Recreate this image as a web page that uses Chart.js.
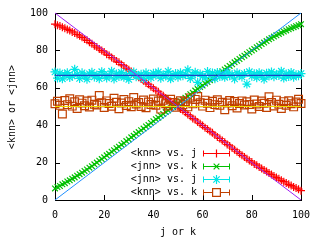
<!DOCTYPE html>
<html>
<head>
<meta charset="utf-8">
<script src="https://cdn.jsdelivr.net/npm/chart.js@4/dist/chart.umd.min.js"></script>
<style>
  html, body { margin: 0; padding: 0; background: #fff; }
  #wrap { width: 320px; height: 240px; position: relative; }
</style>
</head>
<body>
<div id="wrap"><canvas id="c"></canvas></div>
<script>
// j or k, 0..100
const steps = [0,1,2,3,4,5,6,7,8,9,10,11,12,13,14,15,16,17,18,19,20,21,22,23,24,25,26,27,28,29,30,31,32,33,34,35,36,37,38,39,40,41,42,43,44,45,46,47,48,49,50,51,52,53,54,55,56,57,58,59,60,61,62,63,64,65,66,67,68,69,70,71,72,73,74,75,76,77,78,79,80,81,82,83,84,85,86,87,88,89,90,91,92,93,94,95,96,97,98,99,100];

// <knn> vs. j
const knnJ = [94.0,93.5,93.1,92.4,91.9,91.2,90.7,89.9,89.3,88.5,
  87.8,87.0,86.1,85.4,84.3,83.6,82.5,81.8,80.8,79.9,
  79.1,78.0,77.3,76.2,75.4,74.3,73.6,72.4,71.7,70.5,
  69.6,68.7,67.5,66.8,65.6,64.7,63.8,62.6,61.9,60.6,
  59.8,58.7,57.9,56.6,55.8,54.6,53.9,52.7,51.8,50.6,
  49.9,48.7,47.8,46.9,45.7,44.8,43.6,42.9,41.7,40.8,
  39.8,38.7,37.9,36.7,35.9,34.8,33.7,32.9,31.8,30.9,
  29.7,28.9,27.8,26.9,25.8,24.9,23.9,23.0,22.0,21.1,
  20.3,19.3,18.6,17.6,16.9,16.0,15.2,14.4,13.6,12.8,
  12.0,11.3,10.5,9.8,9.1,8.4,7.7,7.0,6.4,5.8,
  5.0];

// <jnn> vs. k
const jnnK = [6.2,6.9,7.5,8.4,9.0,9.9,10.5,11.4,12.1,13.0,
  13.8,14.6,15.5,16.3,17.3,18.1,19.1,20.0,21.0,21.9,
  22.8,23.9,24.7,25.8,26.6,27.7,28.5,29.6,30.4,31.5,
  32.4,33.5,34.3,35.4,36.3,37.3,38.2,39.3,40.1,41.2,
  42.1,43.2,44.0,45.1,46.0,47.0,47.9,49.0,49.8,50.9,
  51.7,52.8,53.6,54.7,55.5,56.6,57.4,58.5,59.3,60.4,
  61.2,62.3,63.1,64.1,65.0,66.0,66.9,67.9,68.8,69.8,
  70.7,71.7,72.6,73.6,74.4,75.4,76.3,77.2,78.1,79.0,
  79.9,80.8,81.7,82.5,83.4,84.2,85.0,85.9,86.6,87.4,
  88.1,88.8,89.5,90.1,90.7,91.3,91.9,92.4,92.9,93.5,
  94.0];

// <jnn> vs. j
const jnnJ = [68.5,65.2,67.9,64.8,66.9,68.1,65.5,66.3,69.9,67.2,
  65.0,68.0,66.4,64.6,67.5,68.3,65.8,66.9,64.9,68.6,
  67.1,65.3,66.6,68.9,64.7,67.4,66.0,68.2,65.6,66.8,
  64.5,67.7,68.4,65.9,66.5,67.3,64.9,68.0,66.2,65.4,
  67.8,66.7,68.5,65.1,67.0,66.3,68.8,64.8,66.9,67.6,
  65.7,68.1,66.4,67.2,69.6,65.0,66.8,68.3,62.9,67.4,
  66.1,65.5,68.7,66.6,67.9,64.9,68.2,66.0,67.3,65.6,
  68.4,66.5,67.1,64.7,68.0,66.9,65.8,67.6,62.0,68.6,
  66.2,67.5,65.4,68.1,66.8,64.6,67.8,66.3,68.5,65.9,
  67.2,66.6,68.9,65.2,67.4,66.0,68.2,65.7,67.0,66.4,
  67.6];

// <knn> vs. k
const knnK = [51.5,52.8,50.6,46.0,53.2,51.0,54.1,50.2,52.5,48.9,
  53.6,51.8,50.4,52.9,49.7,53.4,51.2,50.8,55.9,52.0,
  49.5,53.0,51.6,50.1,54.4,52.3,48.8,51.9,53.7,50.5,
  52.6,49.9,54.8,51.3,52.1,50.0,53.5,49.3,52.4,51.1,
  54.0,50.7,52.9,48.6,53.3,51.5,50.3,53.9,52.2,49.6,
  51.8,53.1,50.9,52.6,49.8,54.6,51.4,53.8,55.3,52.0,
  50.2,53.4,51.7,49.4,52.8,51.0,53.6,50.6,52.3,48.3,
  51.9,53.2,50.4,52.7,49.2,51.6,53.0,50.8,52.5,51.1,
  48.7,53.5,51.3,50.0,52.9,51.7,49.5,55.2,52.1,50.3,
  53.4,51.2,48.9,52.6,50.7,53.1,51.5,49.8,52.4,53.9,
  51.6];

// reference lines
const refX = [0, 100];
const refDown = [100, 0];
const refUp = [0, 100];
const refJnn = [66.67, 66.67];
const refKnn = [50, 50];

const tickVals = [0, 20, 40, 60, 80, 100];
const legendLabels = ['<knn> vs. j', '<jnn> vs. k', '<jnn> vs. j', '<knn> vs. k'];

const FONT = '"DejaVu Sans Mono", monospace';
const pts = (xs, ys) => xs.map((x, i) => ({ x: x, y: ys[i] }));

const lineSet = (ys, color) => ({
  data: pts(refX, ys), showLine: true, borderColor: color, borderWidth: 1,
  pointRadius: 0, fill: false, clip: false
});
const markSet = (ys, s) => ({
  data: pts(steps, ys), showLine: false, borderColor: s.color, backgroundColor: 'rgba(0,0,0,0)',
  pointStyle: s.style, pointRadius: s.r, pointHoverRadius: s.r, pointBorderWidth: 1.2, borderWidth: 1.2, clip: false
});

const series = [
  { color: '#ff0000', style: 'cross', r: 4 },
  { color: '#00c000', style: 'crossRot', r: 4 },
  { color: '#00e6e6', style: 'star', r: 4.5 },
  { color: '#c04000', style: 'rect', r: 5.5 }
];

// frame with inward ticks on all four sides
const framePlugin = {
  id: 'frame',
  beforeDatasetsDraw(chart) {
    const { ctx, chartArea: a, scales } = chart;
    ctx.save();
    ctx.strokeStyle = '#000';
    ctx.lineWidth = 1;
    ctx.strokeRect(Math.round(a.left) + 0.5, Math.round(a.top) + 0.5,
      Math.round(a.right - a.left), Math.round(a.bottom - a.top));
    ctx.beginPath();
    tickVals.forEach(v => {
      const px = Math.round(scales.x.getPixelForValue(v)) + 0.5;
      const py = Math.round(scales.y.getPixelForValue(v)) + 0.5;
      ctx.moveTo(px, a.bottom); ctx.lineTo(px, a.bottom - 5);
      ctx.moveTo(px, a.top); ctx.lineTo(px, a.top + 5);
      ctx.moveTo(a.left, py); ctx.lineTo(a.left + 5, py);
      ctx.moveTo(a.right, py); ctx.lineTo(a.right - 5, py);
    });
    ctx.stroke();
    ctx.restore();
  },
  afterDraw(chart) {
    const { ctx } = chart;
    ctx.save();
    ctx.fillStyle = '#000';
    ctx.font = '10px ' + FONT;
    ctx.textAlign = 'center';
    ctx.textBaseline = 'middle';
    ctx.fillText('j or k', 178, 232);
    ctx.translate(12, 107);
    ctx.rotate(-Math.PI / 2);
    ctx.fillText('<knn> or <jnn>', 0, 0);
    ctx.restore();
  }
};

// gnuplot-like key: label, error-bar sample, marker
const keyPlugin = {
  id: 'key',
  afterDatasetsDraw(chart) {
    const { ctx } = chart;
    const rows = [153, 166, 179, 192];
    ctx.save();
    ctx.font = '10px ' + FONT;
    ctx.textAlign = 'right';
    ctx.textBaseline = 'middle';
    series.forEach((s, i) => {
      const y = rows[i] + 0.5;
      ctx.fillStyle = '#000';
      ctx.fillText(legendLabels[i], 197, rows[i]);
      ctx.strokeStyle = s.color;
      ctx.lineWidth = 1;
      ctx.beginPath();
      ctx.moveTo(203, y); ctx.lineTo(230, y);
      ctx.moveTo(203.5, y - 3); ctx.lineTo(203.5, y + 3);
      ctx.moveTo(229.5, y - 3); ctx.lineTo(229.5, y + 3);
      ctx.stroke();
      ctx.fillStyle = '#fff';
      ctx.lineWidth = 1.2;
      Chart.helpers.drawPoint(ctx, { pointStyle: s.style, radius: s.r, rotation: 0, borderWidth: 1.2 }, 216.5, y);
    });
    ctx.restore();
  }
};

new Chart(document.getElementById('c'), {
  type: 'scatter',
  data: {
    datasets: [
      lineSet(refDown, '#a020f0'),
      lineSet(refUp, '#2090ff'),
      lineSet(refJnn, '#2020c0'),
      lineSet(refKnn, '#eedd00'),
      markSet(knnK, series[3]),
      markSet(jnnJ, series[2]),
      markSet(jnnK, series[1]),
      markSet(knnJ, series[0])
    ]
  },
  options: {
    responsive: true,
    maintainAspectRatio: false,
    animation: false,
    events: [],
    layout: { padding: { top: 12, right: 19, left: 0, bottom: 0 } },
    plugins: { legend: { display: false }, tooltip: { enabled: false } },
    scales: {
      x: {
        type: 'linear', min: 0, max: 100,
        grid: { display: false, drawTicks: false },
        border: { display: false },
        ticks: { stepSize: 20, color: '#000', font: { family: FONT, size: 10 }, padding: 9, maxRotation: 0 },
        afterFit(scale) { scale.height = 40; }
      },
      y: {
        type: 'linear', min: 0, max: 100,
        grid: { display: false, drawTicks: false },
        border: { display: false },
        ticks: { stepSize: 20, color: '#000', font: { family: FONT, size: 10 }, padding: 7 },
        afterFit(scale) { scale.width = 55; }
      }
    }
  },
  plugins: [framePlugin, keyPlugin]
});
</script>
</body>
</html>
